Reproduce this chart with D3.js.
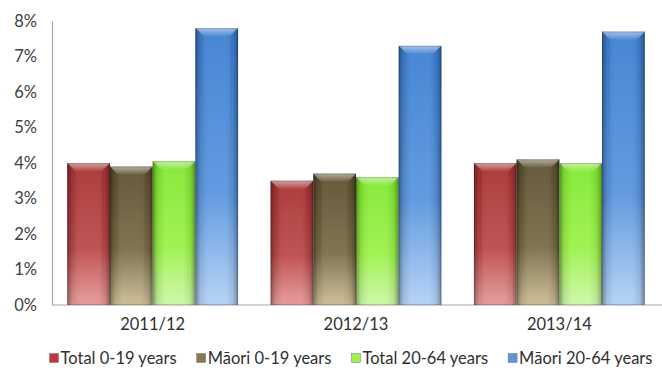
<!DOCTYPE html>
<html><head><meta charset="utf-8">
<script src="https://cdn.jsdelivr.net/npm/d3@7"></script>
<style>body{margin:0;background:#fff;}svg{display:block;font-family:Lato,"Open Sans",sans-serif;}</style>
</head><body><div id="chart"></div>
<script>
const categories = ["2011/12", "2012/13", "2013/14"];
const seriesNames = ["Total 0-19 years", "Māori 0-19 years", "Total 20-64 years", "Māori 20-64 years"];
const total0to19 = [4.0, 3.5, 4.0];
const maori0to19 = [3.9, 3.7, 4.1];
const total20to64 = [4.05, 3.6, 4.0];
const maori20to64 = [7.8, 7.3, 7.7];
const yTicks = [0, 1, 2, 3, 4, 5, 6, 7, 8];
const seriesValues = [total0to19, maori0to19, total20to64, maori20to64];
const colors = [
  {top:"#a83232", mid:"#bc4a4a", bot:"#e79a9a", leg:"#c0393f"},
  {top:"#5c5030", mid:"#7a6c48", bot:"#cbbd95", leg:"#857a50"},
  {top:"#80e830", mid:"#9cf24a", bot:"#cdf8a8", leg:"#9ef050"},
  {top:"#3c7fd2", mid:"#5a96de", bot:"#b4d2f6", leg:"#5b96dc"}
];

const W = 662, H = 376;
const m = {left: 52, right: 1, top: 21, bottom: 71};
const FS = 16.5;
const svg = d3.select("#chart").append("svg").attr("width", W).attr("height", H);
const defs = svg.append("defs");

colors.forEach((c, i) => {
  const g = defs.append("linearGradient").attr("id", "v" + i).attr("x1", 0).attr("y1", 0).attr("x2", 0).attr("y2", 1);
  g.append("stop").attr("offset", "0%").attr("stop-color", c.top);
  g.append("stop").attr("offset", "60%").attr("stop-color", c.mid);
  g.append("stop").attr("offset", "100%").attr("stop-color", c.bot);
});
const hg = defs.append("linearGradient").attr("id", "hedge").attr("x1", 0).attr("y1", 0).attr("x2", 1).attr("y2", 0);
[[0, 0.35], [0.12, 0.08], [0.3, 0], [0.7, 0], [0.88, 0.08], [1, 0.35]].forEach(([o, a]) =>
  hg.append("stop").attr("offset", o).attr("stop-color", "#000").attr("stop-opacity", a));
const tg = defs.append("linearGradient").attr("id", "topbev").attr("x1", 0).attr("y1", 0).attr("x2", 0).attr("y2", 1);
tg.append("stop").attr("offset", "0%").attr("stop-color", "#fff").attr("stop-opacity", 0.55);
tg.append("stop").attr("offset", "100%").attr("stop-color", "#fff").attr("stop-opacity", 0.1);

const x0 = d3.scaleBand().domain(categories).range([m.left - 1, W - m.right]).paddingInner(0.16).paddingOuter(0.08);
const x1 = d3.scaleBand().domain(d3.range(seriesNames.length)).range([0, x0.bandwidth()]);
const y = d3.scaleLinear().domain([0, 8]).range([H - m.bottom, m.top]);

// axes
const yAxis = svg.append("g").attr("transform", `translate(${m.left},0)`)
  .call(d3.axisLeft(y).tickValues(yTicks).tickFormat(d => d + "%").tickSize(0).tickPadding(15));
yAxis.select(".domain").attr("stroke", "#a6a6a6").attr("stroke-width", 1.2);
yAxis.selectAll("text").attr("font-size", FS).attr("fill", "#404040").attr("font-family", "Lato, sans-serif");

const xAxis = svg.append("g").attr("transform", `translate(0,${H - m.bottom})`)
  .call(d3.axisBottom(x0).tickSize(0).tickPadding(13));
xAxis.select(".domain").attr("stroke", "#a6a6a6").attr("stroke-width", 1.2).attr("d", `M${m.left},0H${W}`);
xAxis.selectAll("text").attr("font-size", FS).attr("fill", "#303030").attr("font-family", "Lato, sans-serif");

// bars
const rows = [];
categories.forEach((cat, ci) => seriesValues.forEach((arr, si) => rows.push({cat, si, v: arr[ci]})));
const bars = svg.append("g").selectAll("g").data(rows).join("g")
  .attr("transform", d => `translate(${x0(d.cat) + x1(d.si)},0)`);
const bw = x1.bandwidth();
bars.append("rect").attr("x", 0).attr("width", bw).attr("y", d => y(d.v)).attr("height", d => y(0) - y(d.v))
  .attr("fill", d => `url(#v${d.si})`);
bars.append("rect").attr("x", 0).attr("width", bw).attr("y", d => y(d.v)).attr("height", d => y(0) - y(d.v))
  .attr("fill", "url(#hedge)");
const bev = 8;
bars.append("path").attr("d", d => {
  const t = y(d.v);
  return `M0,${t}H${bw}L${bw - bev},${t + bev}H${bev}Z`;
}).attr("fill", "url(#topbev)");
bars.append("path").attr("d", d => {
  const t = y(d.v), b = y(0);
  return `M${bev},${t + bev}H${bw - bev}V${b - 4}H${bev}Z`;
}).attr("fill", "#fff").attr("fill-opacity", 0.06);
bars.append("rect").attr("x", 0.5).attr("width", bw - 1).attr("y", d => y(d.v) + 0.5).attr("height", d => y(0) - y(d.v) - 1)
  .attr("fill", "none").attr("stroke", "#000").attr("stroke-opacity", 0.18);

// legend
const leg = svg.append("g").attr("transform", `translate(0,${H - 18})`);
const items = leg.selectAll("g").data(seriesNames).join("g");
items.append("rect").attr("width", 9).attr("height", 9).attr("y", -4.5).attr("fill", (d, i) => colors[i].leg)
  .attr("stroke", "#777").attr("stroke-width", 0.5);
items.append("text").attr("x", 11).attr("dy", "0.35em").attr("font-size", FS).attr("fill", "#303030").text(d => d);
let widths = [];
items.each(function () { widths.push(this.getBBox().width); });
const gap = 20;
const total = d3.sum(widths) + gap * (widths.length - 1);
let cx = 47 + (608 - total) / 2;
items.attr("transform", (d, i) => { const tx = cx; cx += widths[i] + gap; return `translate(${tx},0)`; });
</script></body></html>
